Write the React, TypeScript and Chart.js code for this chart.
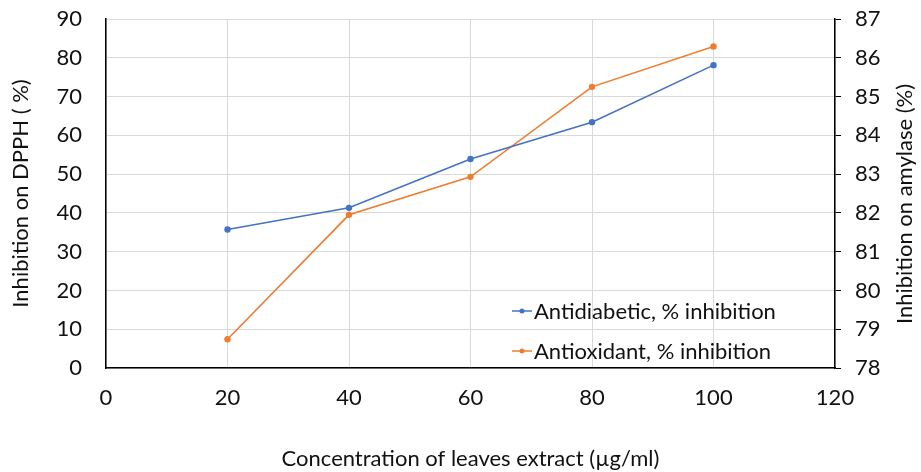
import React, { useEffect, useRef } from "react";
import { Chart, registerables } from "chart.js";

Chart.register(...registerables);

const concentrations = [20, 40, 60, 80, 100];
const antidiabetic = [35.7, 41.3, 53.9, 63.4, 78.1];
const antioxidant = [78.74, 81.95, 82.93, 85.25, 86.29];

const seriesLabels = ["Antidiabetic, % inhibition", "Antioxidant, % inhibition"];
const seriesColors = ["#4472C4", "#ED7D31"];

const xTitle = "Concentration of leaves extract (µg/ml)";
const yLeftTitle = "Inhibition on DPPH ( %)";
const yRightTitle = "Inhibition on amylase (%)";

const FONT = "Lato, 'Open Sans', sans-serif";
const FS = 22;
const TEXT = "#111";

const extrasPlugin = {
  id: "extras",
  afterDraw(chart: any) {
    const { ctx, chartArea } = chart;
    ctx.save();
    // right axis title, read bottom-to-top
    ctx.translate(905, chartArea.top + 185);
    ctx.rotate(-Math.PI / 2);
    ctx.fillStyle = TEXT;
    ctx.font = `${FS}px ${FONT}`;
    ctx.textAlign = "center";
    ctx.textBaseline = "middle";
    ctx.fillText(yRightTitle, 0, 0);
    ctx.restore();

    // legend inside plot area
    const x0 = chartArea.left + 406;
    const rows = [chartArea.top + 292, chartArea.top + 332];
    ctx.save();
    chart.data.datasets.forEach((ds: any, i: number) => {
      const y = rows[i];
      ctx.strokeStyle = ds.borderColor;
      ctx.lineWidth = 1.5;
      ctx.beginPath();
      ctx.moveTo(x0, y);
      ctx.lineTo(x0 + 20, y);
      ctx.stroke();
      ctx.fillStyle = ds.borderColor;
      ctx.beginPath();
      ctx.arc(x0 + 10, y, 2.5, 0, Math.PI * 2);
      ctx.fill();
      ctx.fillStyle = TEXT;
      ctx.font = `${FS}px ${FONT}`;
      ctx.textAlign = "left";
      ctx.textBaseline = "middle";
      ctx.fillText(ds.label, x0 + 22, y + 1);
    });
    ctx.restore();
  },
};

export default function App() {
  const ref = useRef<HTMLCanvasElement | null>(null);

  useEffect(() => {
    if (!ref.current) return;
    const chart = new Chart(ref.current, {
      type: "line",
      data: {
        datasets: [
          {
            label: seriesLabels[0],
            data: concentrations.map((x, i) => ({ x, y: antidiabetic[i] })),
            borderColor: seriesColors[0],
            backgroundColor: seriesColors[0],
            borderWidth: 1.6,
            pointRadius: 3.2,
            pointBorderWidth: 0,
            yAxisID: "y",
          },
          {
            label: seriesLabels[1],
            data: concentrations.map((x, i) => ({ x, y: antioxidant[i] })),
            borderColor: seriesColors[1],
            backgroundColor: seriesColors[1],
            borderWidth: 1.6,
            pointRadius: 3.2,
            pointBorderWidth: 0,
            yAxisID: "y1",
          },
        ],
      },
      options: {
        responsive: false,
        devicePixelRatio: 1,
        animation: false,
        layout: { padding: { top: 19, left: 0, right: 0, bottom: 0 } },
        plugins: { legend: { display: false }, tooltip: { enabled: false } },
        scales: {
          x: {
            type: "linear",
            min: 0,
            max: 120,
            ticks: { stepSize: 20, padding: 17, color: TEXT, font: { family: FONT, size: FS } },
            grid: { color: "#d9d9d9", lineWidth: 1, drawTicks: false },
            border: { color: "#000", width: 1.5 },
            title: {
              display: true,
              text: xTitle,
              color: TEXT,
              font: { family: FONT, size: FS },
              padding: { top: 0, bottom: 0 },
            },
            afterFit(scale: any) {
              scale.height = 104;
              scale.paddingLeft = 0;
              scale.paddingRight = 0;
            },
          },
          y: {
            position: "left",
            min: 0,
            max: 90,
            ticks: { stepSize: 10, padding: 24, color: TEXT, font: { family: FONT, size: FS } },
            grid: { color: "#d9d9d9", lineWidth: 1, drawTicks: false },
            border: { color: "#000", width: 1.5 },
            title: {
              display: true,
              text: yLeftTitle,
              color: TEXT,
              font: { family: FONT, size: FS },
              padding: { top: 8, bottom: 0 },
            },
            afterFit(scale: any) {
              scale.width = 106;
              scale.paddingTop = 0;
              scale.paddingBottom = 0;
            },
          },
          y1: {
            position: "right",
            min: 78,
            max: 87,
            ticks: { stepSize: 1, padding: 14, color: TEXT, font: { family: FONT, size: FS } },
            grid: { drawOnChartArea: false, drawTicks: true, tickLength: 6, tickColor: "#000", color: "#000" },
            border: { color: "#000", width: 1.5 },
            afterFit(scale: any) {
              scale.width = 86;
              scale.paddingTop = 0;
              scale.paddingBottom = 0;
            },
          },
        },
      },
      plugins: [extrasPlugin],
    } as any);
    return () => chart.destroy();
  }, []);

  return (
    <div style={{ position: "absolute", left: 0, top: 0, width: 921, height: 472, background: "#fff" }}>
      <canvas ref={ref} width={921} height={472} style={{ width: 921, height: 472 }} />
    </div>
  );
}
